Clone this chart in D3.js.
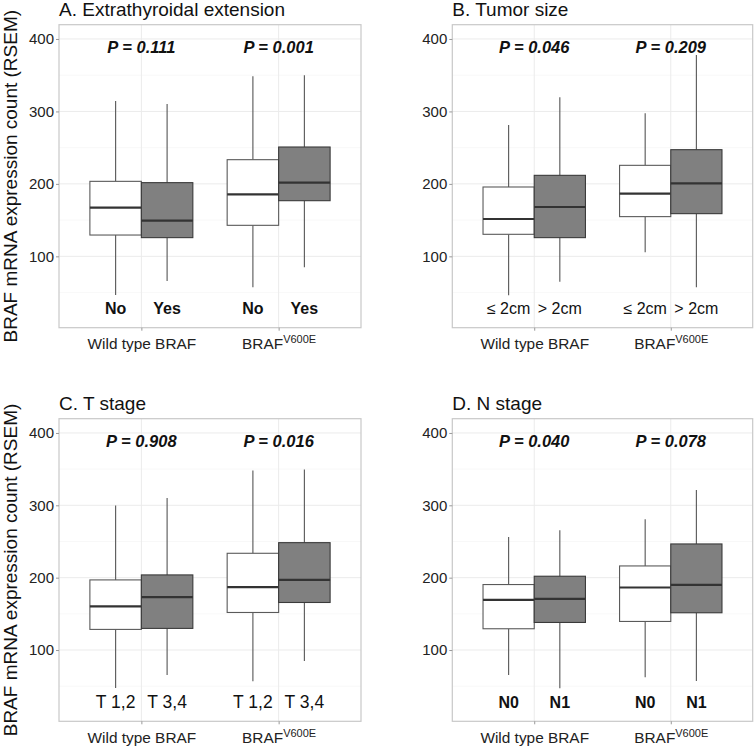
<!DOCTYPE html>
<html>
<head>
<meta charset="utf-8">
<script src="https://cdn.jsdelivr.net/npm/d3@7"></script>
<style>
  html, body { margin: 0; padding: 0; background: #fff; }
  svg { display: block; font-family: "Liberation Sans", Arial, sans-serif; }
</style>
</head>
<body>
<svg id="chart" width="755" height="746"></svg>
<script>
// ---------------- data ----------------
const groups = ["Wild type BRAF", "BRAF V600E"];
const panelTitles = ["A. Extrathyroidal extension", "B. Tumor size", "C. T stage", "D. N stage"];
const subgroupLabels = [["No", "Yes"], ["\u2264 2cm", "> 2cm"], ["T 1,2", "T 3,4"], ["N0", "N1"]];
const boldLabels = [true, false, false, true];
const labelSizes = [16, 16, 17.5, 16];
const pValueLabels = [
  ["P = 0.111", "P = 0.001"],
  ["P = 0.046", "P = 0.209"],
  ["P = 0.908", "P = 0.016"],
  ["P = 0.040", "P = 0.078"]
];
// box stats: [lower whisker, Q1, median, Q3, upper whisker]
// order: WT sub0, WT sub1, V600E sub0, V600E sub1
const statsA = [[46.6, 129.4, 167.2, 203.5, 314.4], [66, 125.8, 149.2, 201.7, 310.3], [57.2, 142.8, 185.6, 233.4, 348.5], [84.8, 176.8, 201.7, 250.9, 349.8]];
const statsB = [[46.2, 130.4, 151.5, 195.7, 281.3], [65, 125.8, 168.1, 211.8, 319.5], [105.5, 154.8, 186.5, 225.6, 297.4], [57.2, 158.9, 200.8, 247.2, 377.9]];
const statsC = [[47.6, 128.5, 160.2, 196.9, 299.8], [65.5, 129.9, 173, 203.8, 310], [56.8, 151.9, 186.8, 233.7, 348.1], [84.8, 165.7, 196.9, 248.4, 349.5]];
const statsD = [[65.5, 129.4, 169.4, 190.5, 256.2], [47.2, 138.1, 170.8, 202, 265.4], [62.3, 139.5, 186.4, 216.2, 280.6], [57.3, 151.5, 190, 246.6, 321]];
const panelStats = [statsA, statsB, statsC, statsD];
const yTicks = [100, 200, 300, 400];
const yMinor = [50, 150, 250, 350];
const yDomain = [1.5, 419.7];
const pTextY = 388;      // data value where P labels sit
const subLabelY = 28;    // data value where subgroup labels sit
const yAxisTitle = "BRAF mRNA expression count (RSEM)";

// ---------------- layout ----------------
const panels = [
  { left: 59, right: 361, top: 24.7, bottom: 327.7, yTitle: true },
  { left: 452.3, right: 752.7, top: 24.7, bottom: 327.7, yTitle: false },
  { left: 59, right: 361, top: 418.7, bottom: 721.3, yTitle: true },
  { left: 452.3, right: 752.7, top: 418.7, bottom: 721.3, yTitle: false }
];

const svg = d3.select("#chart");
const fills = ["#ffffff", "#808080"];
const strokes = ["#5a5a5a", "#3a3a3a"];

panels.forEach((p, pi) => {
  const g = svg.append("g");
  const y = d3.scaleLinear().domain(yDomain).range([p.bottom, p.top]);
  const x = d3.scalePoint().domain(groups).range([p.left, p.right]).padding(0.6);
  const step = x.step();
  const xSub = d3.scaleBand().domain([0, 1]).range([-0.375 * step, 0.375 * step]);

  // minor grid
  g.selectAll(".minor").data(yMinor).join("line")
    .attr("x1", p.left).attr("x2", p.right)
    .attr("y1", d => y(d)).attr("y2", d => y(d))
    .attr("stroke", "#f3f3f3").attr("stroke-width", 0.6);
  // major grid
  g.selectAll(".major").data(yTicks).join("line")
    .attr("x1", p.left).attr("x2", p.right)
    .attr("y1", d => y(d)).attr("y2", d => y(d))
    .attr("stroke", "#ebebeb").attr("stroke-width", 1);
  g.selectAll(".vgrid").data(groups).join("line")
    .attr("x1", d => x(d)).attr("x2", d => x(d))
    .attr("y1", p.top).attr("y2", p.bottom)
    .attr("stroke", "#ebebeb").attr("stroke-width", 1);

  // boxes
  const stats = panelStats[pi];
  const boxes = stats.map((s, i) => ({
    s, gi: Math.floor(i / 2), si: i % 2
  }));
  const bw = xSub.bandwidth();
  const bg = g.selectAll(".box").data(boxes).join("g");
  bg.each(function(d) {
    const sel = d3.select(this);
    const x0 = x(groups[d.gi]) + xSub(d.si);
    const cx = x0 + bw / 2;
    const [lo, q1, med, q3, hi] = d.s;
    sel.append("line").attr("x1", cx).attr("x2", cx).attr("y1", y(q3)).attr("y2", y(hi))
      .attr("stroke", "#555").attr("stroke-width", 1.1);
    sel.append("line").attr("x1", cx).attr("x2", cx).attr("y1", y(q1)).attr("y2", y(lo))
      .attr("stroke", "#555").attr("stroke-width", 1.1);
    sel.append("rect").attr("x", x0).attr("width", bw)
      .attr("y", y(q3)).attr("height", y(q1) - y(q3))
      .attr("fill", fills[d.si]).attr("stroke", strokes[d.si]).attr("stroke-width", 1.1);
    sel.append("line").attr("x1", x0).attr("x2", x0 + bw).attr("y1", y(med)).attr("y2", y(med))
      .attr("stroke", "#333").attr("stroke-width", 2.2);
  });

  // subgroup labels
  groups.forEach((grp, gi) => {
    [0, 1].forEach(si => {
      g.append("text")
        .attr("x", x(grp) + xSub(si) + bw / 2)
        .attr("y", y(subLabelY))
        .attr("dy", "0.35em")
        .attr("text-anchor", "middle")
        .attr("font-size", labelSizes[pi])
        .attr("font-weight", boldLabels[pi] ? "bold" : "normal")
        .attr("fill", "#111")
        .text(subgroupLabels[pi][si]);
    });
    // p-values
    g.append("text")
      .attr("x", x(grp))
      .attr("y", y(pTextY))
      .attr("dy", "0.35em")
      .attr("text-anchor", "middle")
      .attr("font-size", 16.5)
      .attr("font-style", "italic")
      .attr("font-weight", "bold")
      .attr("fill", "#111")
      .text(pValueLabels[pi][gi]);
  });

  // frame
  g.append("rect").attr("x", p.left).attr("y", p.top)
    .attr("width", p.right - p.left).attr("height", p.bottom - p.top)
    .attr("fill", "none").attr("stroke", "#c8c8c8").attr("stroke-width", 1.2);

  // y axis
  const yAxis = g.append("g").attr("transform", `translate(${p.left},0)`)
    .call(d3.axisLeft(y).tickValues(yTicks).tickSize(3).tickPadding(2));
  yAxis.select(".domain").remove();
  yAxis.selectAll(".tick line").attr("stroke", "#999");
  yAxis.selectAll(".tick text").attr("font-size", 15).attr("fill", "#222")
    .attr("font-family", "Liberation Sans, Arial, sans-serif");

  // x axis
  const xAxis = g.append("g").attr("transform", `translate(0,${p.bottom})`)
    .call(d3.axisBottom(x).tickSize(3).tickPadding(5).tickFormat(() => ""));
  xAxis.select(".domain").remove();
  xAxis.selectAll(".tick line").attr("stroke", "#999");
  xAxis.selectAll(".tick").each(function(d) {
    const t = d3.select(this).append("text")
      .attr("y", 21.5)
      .attr("text-anchor", "middle")
      .attr("font-size", 15.4)
      .attr("fill", "#222")
      .attr("font-family", "Liberation Sans, Arial, sans-serif");
    if (d === "BRAF V600E") {
      t.append("tspan").text("BRAF");
      t.append("tspan").attr("dy", -6).attr("font-size", 11).text("V600E");
    } else {
      t.text(d);
    }
  });

  // panel title
  g.append("text").attr("x", p.left).attr("y", p.top - 8.5)
    .attr("font-size", 19).attr("fill", "#111")
    .text(panelTitles[pi]);

  // y axis title
  if (p.yTitle) {
    const cy = (p.top + p.bottom) / 2;
    g.append("text")
      .attr("transform", `translate(17,${cy}) rotate(-90)`)
      .attr("text-anchor", "middle")
      .attr("font-size", 19).attr("fill", "#111")
      .text(yAxisTitle);
  }
});
</script>
</body>
</html>
